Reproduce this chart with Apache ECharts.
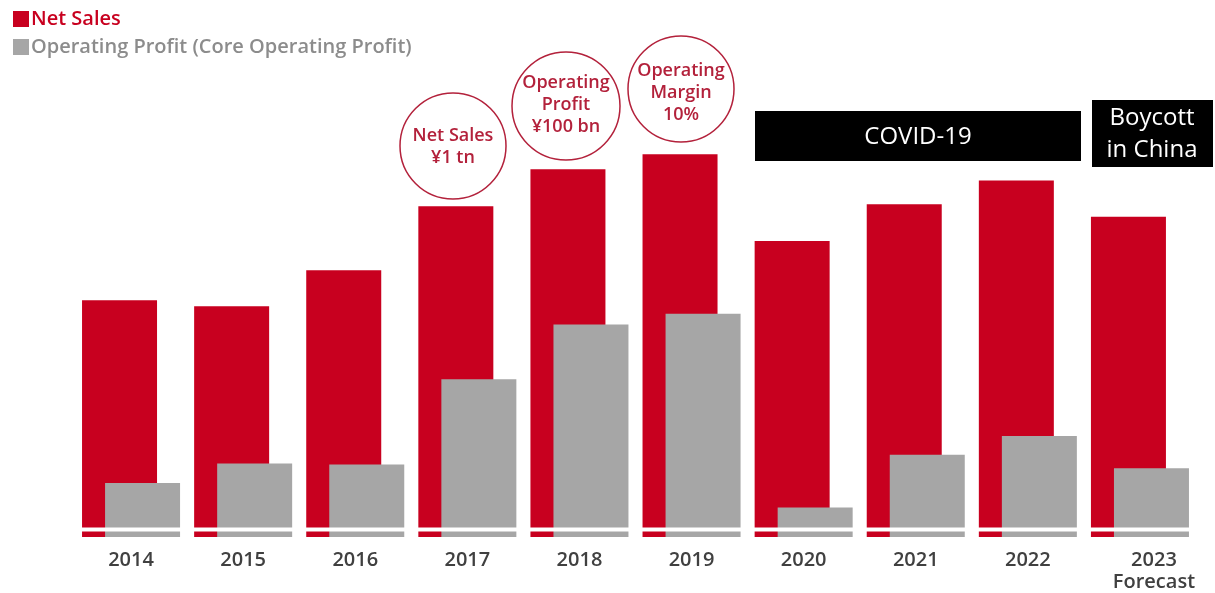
<!DOCTYPE html>
<html>
<head>
<meta charset="utf-8">
<script src="https://cdn.jsdelivr.net/npm/echarts@6/dist/echarts.min.js"></script>
<style>
html,body{margin:0;padding:0;background:#fff;}
#chart{width:1215px;height:593px;}
</style>
</head>
<body>
<div id="chart"></div>
<script>
// ---- data ----
var years = ['2014', '2015', '2016', '2017', '2018', '2019', '2020', '2021', '2022', '2023'];
var netSales = [777.7, 763.0, 850.0, 1005.1, 1094.8, 1131.5, 920.9, 1009.9, 1067.4, 980.0]; // ¥ bn
var operatingProfit = [27.6, 37.5, 37.0, 80.4, 108.4, 113.8, 15.0, 42.0, 51.5, 35.0]; // ¥ bn
var seriesNames = ['Net Sales', 'Operating Profit (Core Operating Profit)'];
var milestones = [
  { text: 'Net Sales\n¥1 tn' },
  { text: 'Operating\nProfit\n¥100 bn' },
  { text: 'Operating\nMargin\n10%' }
];
var events = ['COVID-19', 'Boycott\nin China'];
var forecastNote = 'Forecast';

var RED = '#C8001F';
var GRAY = '#A6A6A6';
var FONT = '"Open Sans", "Noto Sans", sans-serif';
var ANNO = '#B3213B';

var chart = echarts.init(document.getElementById('chart'));

var circlePos = [
  { cx: 453, cy: 146, r: 53, ty: 147 },
  { cx: 566, cy: 106, r: 54, ty: 105 },
  { cx: 681, cy: 89, r: 53, ty: 93 }
];
var graphics = [];
milestones.forEach(function (m, i) {
  var p = circlePos[i];
  graphics.push({
    type: 'circle', shape: { cx: p.cx, cy: p.cy, r: p.r },
    style: { fill: '#fff', stroke: ANNO, lineWidth: 1.5 }, z: 10
  });
  graphics.push({
    type: 'text', z: 11,
    style: {
      text: m.text, x: p.cx, y: p.ty,
      textAlign: 'center', textVerticalAlign: 'middle',
      font: '600 18px ' + FONT, lineHeight: 22, fill: ANNO
    }
  });
});
// event boxes
graphics.push({ type: 'rect', shape: { x: 755, y: 111, width: 326, height: 50 }, style: { fill: '#000' }, z: 10 });
graphics.push({ type: 'text', z: 11, style: { text: events[0], x: 918, y: 137, textAlign: 'center', textVerticalAlign: 'middle', font: '500 24px ' + FONT, fill: '#fff' } });
graphics.push({ type: 'rect', shape: { x: 1092, y: 100, width: 121, height: 67 }, style: { fill: '#000' }, z: 10 });
graphics.push({ type: 'text', z: 11, style: { text: events[1], x: 1152, y: 134, textAlign: 'center', textVerticalAlign: 'middle', font: '500 24px ' + FONT, lineHeight: 32, fill: '#fff' } });
// axis break line
graphics.push({ type: 'rect', shape: { x: 0, y: 527.5, width: 1215, height: 4 }, style: { fill: '#fff' }, z: 20 });

chart.setOption({
  backgroundColor: '#fff',
  animation: false,
  legend: {
    orient: 'vertical', left: 8, top: 4, itemGap: 8,
    itemWidth: 16, itemHeight: 16, icon: 'rect',
    textStyle: { fontFamily: FONT, fontSize: 20, fontWeight: 600, padding: [0, 0, 0, -3] },
    data: [
      { name: seriesNames[0], textStyle: { color: RED } },
      { name: seriesNames[1], textStyle: { color: '#8C8C8C' } }
    ],
    selectedMode: false
  },
  grid: { left: 75, right: 19, top: 137, bottom: 56, containLabel: false },
  xAxis: {
    type: 'category', data: years,
    axisLine: { show: false }, axisTick: { show: false },
    axisLabel: {
      interval: 0, hideOverlap: false,
      margin: 12, fontFamily: FONT, fontSize: 20, fontWeight: 600, color: '#404040', lineHeight: 22,
      formatter: function (v, i) {
        return i === years.length - 1 ? '{f|' + v + '}\n{f|' + forecastNote + '}' : v;
      },
      rich: {
        f: { fontFamily: FONT, fontSize: 20, fontWeight: 600, color: '#404040', lineHeight: 22, padding: [0, 0, 0, 28] }
      }
    }
  },
  yAxis: [
    { type: 'value', min: 204, max: 1173, show: false, splitLine: { show: false } },
    { type: 'value', min: 0, max: 204, show: false, splitLine: { show: false } }
  ],
  series: [
    {
      name: seriesNames[0], type: 'bar', yAxisIndex: 0, data: netSales,
      barWidth: 75, barGap: '-69.3%', itemStyle: { color: RED }, z: 2
    },
    {
      name: seriesNames[1], type: 'bar', yAxisIndex: 1, data: operatingProfit,
      barWidth: 75, barGap: '-69.3%', itemStyle: { color: GRAY }, z: 3
    }
  ],
  graphic: graphics
});
</script>
</body>
</html>
